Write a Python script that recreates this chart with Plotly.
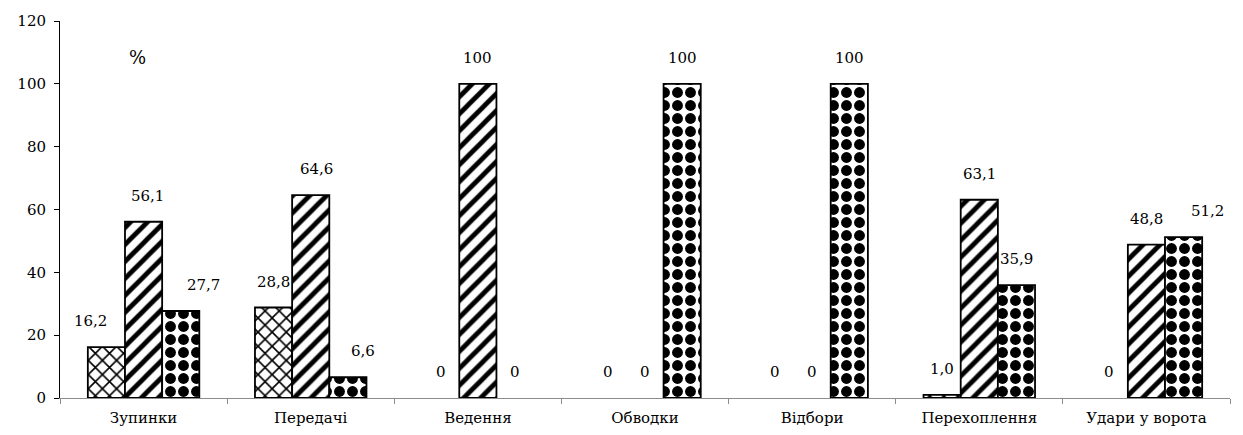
import plotly.graph_objects as go

categories = ["Зупинки", "Передачі", "Ведення", "Обводки", "Відбори", "Перехоплення", "Удари у ворота"]
series_a = [16.2, 28.8, 0, 0, 0, 1.0, 0]
series_b = [56.1, 64.6, 100, 0, 0, 63.1, 48.8]
series_c = [27.7, 6.6, 0, 100, 100, 35.9, 51.2]
y_ticks = [0, 20, 40, 60, 80, 100, 120]

# label horizontal nudges (px) per series, per category
shift_a = [-16, 0, 0, 0, 0, 0, 0]
shift_b = [4, 6, 0, 0, 0, 0, 0]
shift_c = [23, 15, 0, 0, 0, 0, 24]

FONT = "DejaVu Serif"

def fmt(v):
    if v == 0:
        return "0"
    if v == 100:
        return "100"
    return f"{v:.1f}".replace(".", ",")

fig = go.Figure()
patterns = [
    dict(shape="x", size=10, solidity=0.3, fgcolor="black", bgcolor="white", fillmode="replace"),
    dict(shape="/", size=12, solidity=0.4, fgcolor="black", bgcolor="white", fillmode="replace"),
    dict(shape=".", size=13, solidity=0.55, fgcolor="black", bgcolor="white", fillmode="replace"),
]
all_series = [series_a, series_b, series_c]
for i, (vals, pat) in enumerate(zip(all_series, patterns)):
    fig.add_trace(go.Bar(
        x=categories, y=vals, name=f"s{i}",
        marker=dict(color="white", pattern=pat,
                    line=dict(color="black", width=[1.8 if v > 0 else 0 for v in vals])),
        offsetgroup=str(i),
    ))

# data labels
n = 3
bar_frac = (1 - 0.333) / n
for i, (vals, shifts) in enumerate(zip(all_series, [shift_a, shift_b, shift_c])):
    for j, v in enumerate(vals):
        off = (i - 1) * bar_frac
        fig.add_annotation(
            x=j + off, y=v, xref="x", yref="y",
            text=fmt(v), showarrow=False,
            font=dict(family=FONT, size=15, color="black"),
            xshift=shifts[j], yshift=26, yanchor="middle",
        )

fig.add_annotation(x=(127 - 60) / 1170, y=(398 - 45) / 377, xref="paper", yref="paper",
                   text="%", showarrow=False,
                   font=dict(family=FONT, size=18, color="black"))

fig.update_layout(
    width=1243, height=435,
    margin=dict(l=60, r=13, t=21, b=37),
    plot_bgcolor="white", paper_bgcolor="white",
    barmode="group", bargap=0.333, bargroupgap=0,
    showlegend=False,
    font=dict(family=FONT, size=15, color="black"),
    xaxis=dict(
        type="category", showline=True, linecolor="#8c8c8c", linewidth=1,
        ticks="outside", tickson="boundaries", tickcolor="#8c8c8c", ticklen=5,
        ticklabelstandoff=6, automargin=False,
        showgrid=False, tickfont=dict(family=FONT, size=15, color="black"),
        range=[-0.5, len(categories) - 0.5],
    ),
    yaxis=dict(
        range=[0, 120], tickvals=y_ticks, showline=True, linecolor="black", linewidth=1,
        ticks="outside", tickcolor="black", ticklen=5, showgrid=False, zeroline=False,
        ticklabelstandoff=5, automargin=False,
        tickfont=dict(family=FONT, size=15, color="black"),
    ),
)

fig.write_html("out.html")
